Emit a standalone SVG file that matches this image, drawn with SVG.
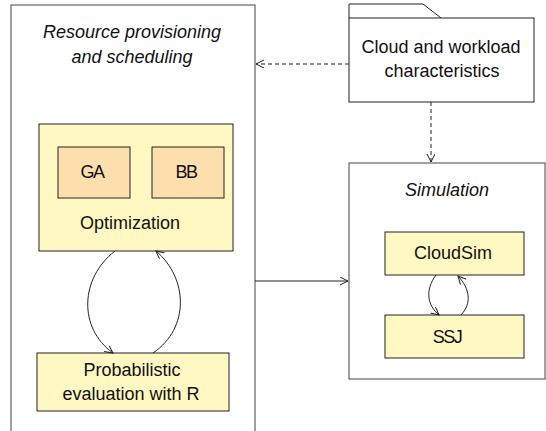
<svg xmlns="http://www.w3.org/2000/svg" width="546" height="431" viewBox="0 0 546 431">
<style>
.t{font-family:"Liberation Sans",Arial,sans-serif;font-size:18px;fill:#111;text-anchor:middle}
.i{font-style:italic}
.c{letter-spacing:-1.5px}
.frame{fill:#fff;stroke:#444;stroke-width:1}
.y{fill:#fff8c2;stroke:#222;stroke-width:1}
.o{fill:#fddfae;stroke:#222;stroke-width:1}
.ln{fill:none;stroke:#222;stroke-width:1}
.d{stroke-dasharray:4,3}
</style>
<defs>
<marker id="a" markerWidth="10" markerHeight="10" refX="8" refY="4" orient="auto" markerUnits="userSpaceOnUse">
<path d="M0,0 L8,4 L0,8" fill="none" stroke="#222" stroke-width="1"/>
</marker>
</defs>
<g id="resource">
<rect class="frame" x="11" y="5" width="244" height="440"/>
<text class="t i" x="132" y="38">Resource provisioning</text>
<text class="t i" x="132" y="63">and scheduling</text>
</g>
<g id="optimization">
<rect class="y" x="39" y="124" width="194" height="127"/>
<text class="t" x="130" y="229">Optimization</text>
</g>
<g id="ga">
<rect class="o" x="58" y="147" width="72" height="51"/>
<text class="t c" x="92" y="178">GA</text>
</g>
<g id="bb">
<rect class="o" x="152" y="147" width="72" height="51"/>
<text class="t c" x="186" y="178">BB</text>
</g>
<g id="probabilistic">
<rect class="y" x="37" y="353" width="192" height="58"/>
<text class="t" x="132" y="376">Probabilistic</text>
<text class="t" x="131" y="400">evaluation with R</text>
</g>
<g id="cloud">
<path class="ln" d="M349,18 L349,4 L423,4 L441,18" fill="#fff"/>
<rect class="frame" x="349" y="18" width="185" height="84" style="stroke:#222"/>
<text class="t" x="441" y="53">Cloud and workload</text>
<text class="t" x="442" y="77">characteristics</text>
</g>
<g id="simulation">
<rect class="frame" x="349" y="163" width="196" height="216"/>
<text class="t i" x="447" y="196">Simulation</text>
</g>
<g id="cloudsim">
<rect class="y" x="385" y="232" width="139" height="43"/>
<text class="t" x="453" y="259">CloudSim</text>
</g>
<g id="ssj">
<rect class="y" x="385" y="315" width="139" height="43"/>
<text class="t c" x="447" y="343">SSJ</text>
</g>
<g id="connectors">
<path class="ln d" d="M349,64 L256,64" marker-end="url(#a)"/>
<path class="ln d" d="M431,102 L431,162" marker-end="url(#a)"/>
<path class="ln" d="M255,281 L348,281" marker-end="url(#a)"/>
<path class="ln" d="M115,251 C80,278 78,328 113,353" marker-end="url(#a)"/>
<path class="ln" d="M153,353 C190,328 188,278 156,251" marker-end="url(#a)"/>
<path class="ln" d="M436,275 C425,290 427,305 439,315" marker-end="url(#a)"/>
<path class="ln" d="M461,315 C472,303 470,289 458,276" marker-end="url(#a)"/>
</g>
</svg>
